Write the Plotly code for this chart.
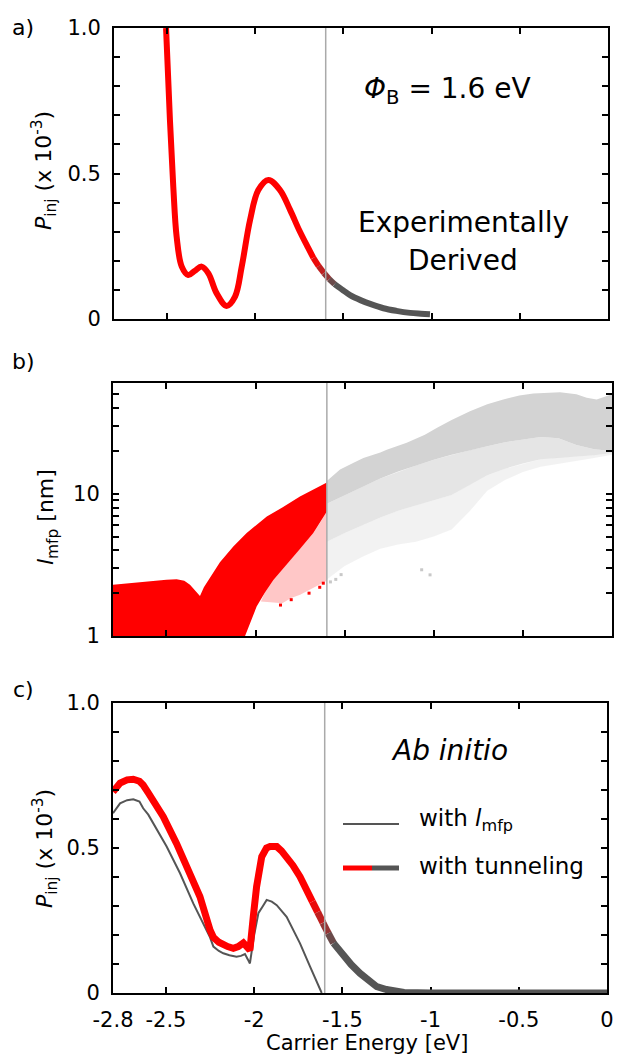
import math
import plotly.graph_objects as go

W, H = 619, 1054

# ---------------- data ----------------
# a) experimentally derived injection probability (x 1e-3) vs carrier energy (eV)
exp_energy = [-2.505, -2.483, -2.464, -2.445, -2.416, -2.379, -2.341, -2.303, -2.265,
              -2.218, -2.162, -2.114, -2.076, -2.029, -1.982, -1.925, -1.859, -1.802,
              -1.75, -1.70, -1.67, -1.64, -1.61, -1.58, -1.55, -1.50, -1.462, -1.40,
              -1.34, -1.273, -1.20, -1.122, -1.06, -1.009]
exp_pinj = [1.0, 0.684, 0.455, 0.283, 0.18, 0.151, 0.166, 0.18, 0.157,
            0.088, 0.045, 0.077, 0.18, 0.34, 0.443, 0.478, 0.443, 0.375,
            0.305, 0.245, 0.21, 0.182, 0.158, 0.137, 0.12, 0.098, 0.082, 0.064,
            0.05, 0.037, 0.028, 0.021, 0.018, 0.016]

# b) mean free path cloud, described by its envelopes (nm)
red_upper_energy = [-2.8, -2.7, -2.6, -2.5, -2.443, -2.4, -2.368, -2.34, -2.312,
                    -2.29, -2.237, -2.2, -2.125, -2.05, -1.937, -1.85, -1.751, -1.69, -1.6]
red_upper_lmfp = [2.29, 2.36, 2.43, 2.49, 2.51, 2.45, 2.29, 2.1, 1.91,
                  2.2, 2.76, 3.3, 4.25, 5.3, 6.92, 8.0, 9.57, 10.5, 12.0]
red_lower_energy = [-2.8, -2.059, -1.994, -1.95, -1.90, -1.85, -1.788, -1.75, -1.676, -1.64, -1.6]
red_lower_lmfp = [1.0, 1.0, 1.61, 2.0, 2.48, 2.95, 3.62, 4.1, 5.29, 6.2, 7.5]
red_sparse_energy = [-1.97, -1.90, -1.85, -1.80, -1.75, -1.70, -1.64, -1.6]
red_sparse_lmfp = [1.75, 1.72, 1.7, 1.85, 1.95, 2.1, 2.3, 2.45]

grey_upper_energy = [-1.6, -1.526, -1.45, -1.395, -1.3, -1.264, -1.152, -1.05, -0.984,
                     -0.9, -0.797, -0.7, -0.61, -0.52, -0.441, -0.35, -0.292, -0.2,
                     -0.142, -0.086, -0.05, 0.0]
grey_upper_lmfp = [12.3, 14.8, 16.5, 17.8, 19.5, 20.4, 22.8, 26.0, 29.0,
                   33.0, 38.0, 42.5, 45.9, 49.0, 50.6, 51.5, 51.7, 50.0,
                   47.2, 45.9, 47.5, 50.0]
grey_dense_energy = [-1.6, -1.5, -1.4, -1.3, -1.2, -1.1, -1.0, -0.9, -0.8, -0.7,
                     -0.6, -0.5, -0.4, -0.3, -0.2, -0.1, 0.0]
grey_dense_lmfp = [8.5, 9.8, 11.2, 12.8, 14.3, 15.8, 17.3, 18.8, 20.2, 21.6,
                   23.0, 24.0, 25.0, 24.5, 22.0, 20.5, 20.0]
grey_mid_energy = [-1.6, -1.5, -1.4, -1.3, -1.2, -1.1, -1.0, -0.9, -0.8, -0.7,
                   -0.6, -0.5, -0.4, -0.3, -0.2, -0.1, 0.0]
grey_mid_lmfp = [4.6, 5.3, 6.0, 6.8, 7.6, 8.3, 9.0, 9.8, 11.5, 13.5,
                 15.0, 16.3, 17.5, 18.0, 18.3, 18.6, 19.3]
grey_sparse_energy = [-1.6, -1.5, -1.4, -1.3, -1.2, -1.1, -1.0, -0.9, -0.8, -0.7,
                      -0.6, -0.5, -0.4, -0.3, -0.2, -0.1, 0.0]
grey_sparse_lmfp = [2.5, 3.1, 3.6, 4.1, 4.4, 4.6, 5.0, 5.6, 7.5, 10.5,
                    12.5, 14.2, 15.5, 16.3, 17.0, 17.8, 18.8]
grey_outlier_energy = [-1.58, -1.55, -1.52, -1.068, -1.021]
grey_outlier_lmfp = [2.4, 2.5, 2.7, 2.92, 2.69]
red_outlier_energy = [-1.62, -1.64, -1.70, -1.80, -1.86]
red_outlier_lmfp = [2.35, 2.2, 2.0, 1.8, 1.65]

# c) ab initio injection probability (x 1e-3)
tun_energy = [-2.8, -2.76, -2.72, -2.685, -2.65, -2.629, -2.6, -2.572, -2.515, -2.44,
              -2.364, -2.307, -2.25, -2.231, -2.2, -2.175, -2.15, -2.118, -2.09, -2.061,
              -2.04, -2.024, -2.005, -1.986, -1.957, -1.93, -1.91, -1.872, -1.845, -1.816,
              -1.78, -1.74, -1.70, -1.67, -1.64, -1.61, -1.58, -1.55, -1.495, -1.45,
              -1.40, -1.35, -1.305, -1.25, -1.21, -1.15, -1.0, -0.5, 0.0]
tun_pinj = [0.694, 0.724, 0.735, 0.737, 0.73, 0.717, 0.69, 0.666, 0.608, 0.516,
            0.413, 0.332, 0.217, 0.192, 0.175, 0.166, 0.16, 0.154, 0.16, 0.173,
            0.16, 0.148, 0.263, 0.367, 0.47, 0.50, 0.505, 0.505, 0.49, 0.47,
            0.44, 0.401, 0.352, 0.315, 0.279, 0.242, 0.206, 0.172, 0.13, 0.098,
            0.068, 0.042, 0.022, 0.012, 0.006, 0.002, 0.0, 0.0, 0.0]
mfp_energy = [-2.8, -2.76, -2.72, -2.685, -2.65, -2.629, -2.6, -2.572, -2.496, -2.42,
              -2.345, -2.25, -2.231, -2.2, -2.175, -2.14, -2.1, -2.075, -2.052, -2.035,
              -2.024, -2.0, -1.976, -1.95, -1.929, -1.9, -1.872, -1.816, -1.74, -1.683,
              -1.617]
mfp_pinj = [0.62, 0.654, 0.665, 0.668, 0.66, 0.637, 0.615, 0.585, 0.505, 0.413,
            0.309, 0.192, 0.16, 0.145, 0.137, 0.13, 0.125, 0.128, 0.134, 0.115,
            0.102, 0.20, 0.275, 0.30, 0.321, 0.315, 0.303, 0.263, 0.171, 0.091,
            0.0]

barrier = -1.6
x_tickvals = [-2.8, -2.5, -2, -1.5, -1, -0.5, 0]
x_ticktext = ["-2.8", "-2.5", "-2", "-1.5", "-1", "-0.5", "0"]

RED = (255, 0, 0)
GREY = (85, 85, 85)
FADE_START, FADE_END = -1.67, -1.55

fig = go.Figure()


def mix(f):
    f = min(max(f, 0.0), 1.0)
    r, g, b = (round(RED[k] + (GREY[k] - RED[k]) * f) for k in range(3))
    return f"rgb({r},{g},{b})"


def fading_curve(xs, ys, width, xa, ya, shape):
    """Red curve that fades into grey across the barrier energy."""
    red_x = [x for x in xs if x <= FADE_START + 1e-9]
    red_y = ys[:len(red_x)]
    fig.add_trace(go.Scatter(x=red_x, y=red_y, mode="lines", xaxis=xa, yaxis=ya,
                             line=dict(color=mix(0), width=width, shape=shape),
                             hoverinfo="skip"))
    for i in range(len(xs) - 1):
        if xs[i] >= FADE_START - 1e-9 and xs[i + 1] <= FADE_END + 1e-9:
            f = ((xs[i] + xs[i + 1]) / 2 - FADE_START) / (FADE_END - FADE_START)
            fig.add_trace(go.Scatter(x=xs[i:i + 2], y=ys[i:i + 2], mode="lines",
                                     xaxis=xa, yaxis=ya,
                                     line=dict(color=mix(f), width=width),
                                     hoverinfo="skip"))
    start = [i for i, x in enumerate(xs) if x >= FADE_END - 1e-9][0]
    fig.add_trace(go.Scatter(x=xs[start:], y=ys[start:], mode="lines", xaxis=xa, yaxis=ya,
                             line=dict(color=mix(1), width=width, shape=shape),
                             hoverinfo="skip"))


def band(x_top, y_top, x_bot, y_bot, color, xa, ya):
    fig.add_trace(go.Scatter(x=list(x_top) + list(x_bot)[::-1],
                             y=list(y_top) + list(y_bot)[::-1],
                             mode="lines", fill="toself", fillcolor=color,
                             line=dict(width=0, color=color),
                             xaxis=xa, yaxis=ya, hoverinfo="skip"))


# ---- panel a ----
fading_curve(exp_energy, exp_pinj, 6, "x", "y", "spline")

# ---- panel b ----
band(grey_mid_energy, grey_mid_lmfp, grey_sparse_energy, grey_sparse_lmfp,
     "rgba(211,211,211,0.3)", "x2", "y2")
band(grey_dense_energy, grey_dense_lmfp, grey_mid_energy, grey_mid_lmfp,
     "rgba(211,211,211,0.6)", "x2", "y2")
band(grey_upper_energy, grey_upper_lmfp, grey_dense_energy, grey_dense_lmfp,
     "rgb(211,211,211)", "x2", "y2")
sparse_top = [v for e, v in zip(red_lower_energy, red_lower_lmfp) if e >= -1.97]
sparse_top_e = [e for e in red_lower_energy if e >= -1.97]
band(sparse_top_e, sparse_top, red_sparse_energy, red_sparse_lmfp,
     "rgba(255,0,0,0.22)", "x2", "y2")
band(red_upper_energy, red_upper_lmfp, red_lower_energy, red_lower_lmfp,
     "rgb(255,0,0)", "x2", "y2")
fig.add_trace(go.Scatter(x=grey_outlier_energy, y=grey_outlier_lmfp, mode="markers",
                         marker=dict(symbol="square", size=3, color="rgb(200,200,200)"),
                         xaxis="x2", yaxis="y2", hoverinfo="skip"))
fig.add_trace(go.Scatter(x=red_outlier_energy, y=red_outlier_lmfp, mode="markers",
                         marker=dict(symbol="square", size=3, color="rgb(255,0,0)"),
                         xaxis="x2", yaxis="y2", hoverinfo="skip"))

# ---- panel c ----
fig.add_trace(go.Scatter(x=mfp_energy, y=mfp_pinj, mode="lines", xaxis="x3", yaxis="y3",
                         line=dict(color="rgb(85,85,85)", width=2), hoverinfo="skip"))
fading_curve(tun_energy, tun_pinj, 7, "x3", "y3", "linear")


# ---------------- axes ----------------
def px_x(p):
    return p / W


def px_y(p):
    return 1 - p / H


def frame(**kw):
    d = dict(showline=True, linecolor="black", linewidth=2, mirror="ticks",
             ticks="inside", ticklen=6, tickwidth=2, tickcolor="black",
             showgrid=False, zeroline=False, fixedrange=True,
             tickfont=dict(size=21, color="black"))
    d.update(kw)
    return d


lin_vals = [round(0.1 * k, 1) for k in range(11)]
lin_text = ["0" if v == 0 else ("0.5" if v == 0.5 else ("1.0" if v == 1.0 else "")) for v in lin_vals]
log_vals = [1, 2, 3, 4, 5, 6, 7, 8, 9, 10, 20, 30, 40, 50, 60]
log_text = ["1" if v == 1 else ("10" if v == 10 else "") for v in log_vals]

fig.update_layout(
    width=W, height=H, margin=dict(l=0, r=0, t=0, b=0, autoexpand=False),
    paper_bgcolor="white", plot_bgcolor="white", showlegend=False,
    font=dict(family="DejaVu Sans", color="black"),
    xaxis=frame(domain=[px_x(114), px_x(608)], range=[-2.8, 0], tickvals=x_tickvals,
                showticklabels=False, anchor="y"),
    yaxis=frame(domain=[px_y(319), px_y(28)], range=[0, 1], tickvals=lin_vals,
                ticktext=lin_text, anchor="x", ticklabelstandoff=7),
    xaxis2=frame(domain=[px_x(113), px_x(612)], range=[-2.8, 0], tickvals=x_tickvals,
                 showticklabels=False, anchor="y2"),
    yaxis2=frame(domain=[px_y(636), px_y(383)], type="log", range=[0, math.log10(60)],
                 tickvals=log_vals, ticktext=log_text, anchor="x2", ticklabelstandoff=7),
    xaxis3=frame(domain=[px_x(113), px_x(607)], range=[-2.8, 0], tickvals=x_tickvals,
                 ticktext=x_ticktext, anchor="y3", layer="below traces",
                 ticklabelstandoff=7),
    yaxis3=frame(domain=[px_y(993), px_y(703)], range=[0, 1], tickvals=lin_vals,
                 ticktext=lin_text, anchor="x3", ticklabelstandoff=7),
)

# barrier height marker in every panel
for xa, ya in (("x", "y"), ("x2", "y2"), ("x3", "y3")):
    fig.add_shape(type="line", xref=xa, yref=f"{ya} domain", x0=barrier, x1=barrier,
                  y0=0, y1=1, line=dict(color="rgb(170,170,170)", width=1.5), layer="above")

# legend of panel c
fig.add_shape(type="line", xref="paper", yref="paper", x0=px_x(343), x1=px_x(399),
              y0=px_y(824), y1=px_y(824), line=dict(color="rgb(85,85,85)", width=2))
fig.add_shape(type="line", xref="paper", yref="paper", x0=px_x(343), x1=px_x(372),
              y0=px_y(868), y1=px_y(868), line=dict(color="rgb(255,0,0)", width=5))
fig.add_shape(type="line", xref="paper", yref="paper", x0=px_x(372), x1=px_x(399),
              y0=px_y(868), y1=px_y(868), line=dict(color="rgb(85,85,85)", width=5))


def label(text, x, y, size, xanchor="center", angle=0, font="DejaVu Sans"):
    fig.add_annotation(text=text, xref="paper", yref="paper", x=px_x(x), y=px_y(y),
                       xanchor=xanchor, yanchor="middle", showarrow=False, textangle=angle,
                       font=dict(size=size, family=font, color="black"))


label("a)", 23, 27, 22)
label("b)", 23, 361, 22)
label("c)", 23, 689, 22)
label("<i>P</i><sub>inj</sub> (x 10<sup>-3</sup>)", 44, 171, 22, angle=-90)
label("<i>l</i><sub>mfp</sub> [nm]", 47, 517, 22, angle=-90)
label("<i>P</i><sub>inj</sub> (x 10<sup>-3</sup>)", 45, 849, 22, angle=-90)
label("Carrier Energy [eV]", 367, 1043, 21)
label("<i>Φ</i><sub>B</sub> = 1.6 eV", 447, 90, 28)
label("Experimentally", 463, 222, 28)
label("Derived", 463, 261, 28)
label("<i>Ab initio</i>", 449, 750, 28)
label("with <i>l</i><sub>mfp</sub>", 417, 820, 23, xanchor="left")
label("with tunneling", 417, 866, 23, xanchor="left")

fig.write_html("out.html")
